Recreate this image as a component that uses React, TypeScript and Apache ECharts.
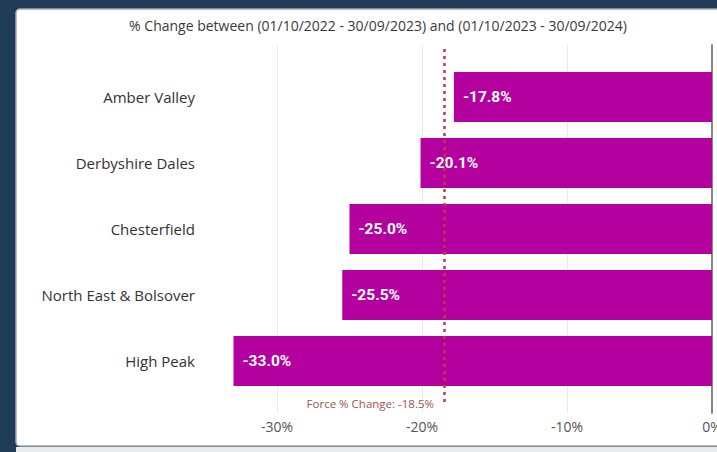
import React, { useEffect, useRef } from "react";
import * as echarts from "echarts";

const TITLE = "% Change between (01/10/2022 - 30/09/2023) and (01/10/2023 - 30/09/2024)";
const CATEGORIES = ["Amber Valley", "Derbyshire Dales", "Chesterfield", "North East & Bolsover", "High Peak"];
const VALUES = [-17.8, -20.1, -25.0, -25.5, -33.0];
const FORCE_CHANGE = -18.5;
const X_MIN = -35;
const X_MAX = 0;
const X_STEP = 5;
const LABEL_STEP = 10;

export default function App() {
  const ref = useRef<HTMLDivElement>(null);
  useEffect(() => {
    const chart = echarts.init(ref.current!, null, { renderer: "svg" });
    const font = "'Open Sans', 'Noto Sans', sans-serif";
    chart.setOption({
      animation: false,
      backgroundColor: "#1f3b57",
      graphic: [
        {
          type: "rect",
          z: -10,
          silent: true,
          shape: { x: 16, y: 9, width: 720, height: 437, r: 4 },
          style: { fill: "#ffffff", stroke: "#a3a9b0", lineWidth: 1.5 },
        },
        {
          type: "rect",
          z: -11,
          silent: true,
          shape: { x: 16, y: 447, width: 720, height: 10 },
          style: { fill: "#e9ecef" },
        },
        {
          type: "text",
          silent: true,
          z: 10,
          x: 434,
          y: 403,
          style: {
            text: `Force % Change: ${FORCE_CHANGE.toFixed(1)}%`,
            fill: "#a3504c",
            fontSize: 11.5,
            fontFamily: font,
            align: "right",
            verticalAlign: "middle",
          },
        },
      ],
      title: {
        text: TITLE,
        left: 373,
        top: 13,
        textAlign: "center",
        textStyle: { fontSize: 14, fontWeight: "normal", color: "#3a3a3a", fontFamily: font },
      },
      grid: [
        { left: 204.5, right: 5, top: 45, bottom: 39, outerBoundsMode: "none", containLabel: false },
        { left: 204.5, right: 5, top: 64, bottom: 58, outerBoundsMode: "none", containLabel: false },
      ],
      xAxis: [
        {
          type: "value",
          gridIndex: 0,
          min: X_MIN,
          max: X_MAX,
          interval: X_STEP,
          axisLine: { show: false },
          axisTick: { show: false },
          axisLabel: {
            color: "#555",
            fontSize: 14,
            fontFamily: font,
            margin: 6,
            formatter: (v: number) => (v % LABEL_STEP === 0 ? `${v}%` : ""),
          },
          splitLine: { show: true, lineStyle: { color: ["rgba(0,0,0,0)", "#ebebeb"], width: 1 } },
        },
        {
          type: "value",
          gridIndex: 1,
          min: X_MIN,
          max: X_MAX,
          show: false,
          splitLine: { show: false },
        },
      ],
      yAxis: [
        {
          type: "value",
          gridIndex: 0,
          min: 0,
          max: 1,
          position: "right",
          axisLine: { show: true, onZero: false, lineStyle: { color: "#858585", width: 2 } },
          axisTick: { show: false },
          axisLabel: { show: false },
          splitLine: { show: false },
        },
        {
          type: "category",
          gridIndex: 1,
          data: CATEGORIES,
          inverse: true,
          axisLine: { show: false },
          axisTick: { show: false },
          axisLabel: { color: "#333", fontSize: 15, fontFamily: font, margin: 9.5 },
        },
      ],
      series: [
        {
          type: "bar",
          xAxisIndex: 1,
          yAxisIndex: 1,
          z: 2,
          data: VALUES,
          barCategoryGap: "24%",
          itemStyle: { color: "#b3009e" },
          label: {
            show: true,
            position: "insideLeft",
            distance: 9,
            color: "#fff",
            fontWeight: "bold",
            fontSize: 15.5,
            fontFamily: "Roboto, sans-serif",
            formatter: (p: any) => `${p.value.toFixed(1)}%`,
          },
        },
        {
          type: "line",
          xAxisIndex: 0,
          yAxisIndex: 0,
          z: 10,
          data: [],
          silent: true,
          markLine: {
            silent: true,
            z: 10,
            symbol: "none",
            label: { show: false },
            lineStyle: { color: "#c23a48", type: [3, 4], width: 2.5 },
            data: [[{ coord: [FORCE_CHANGE, 0.03] }, { coord: [FORCE_CHANGE, 0.99] }]],
          },
        },
      ],
    });
    return () => chart.dispose();
  }, []);
  return <div ref={ref} style={{ width: 717, height: 452, position: "absolute", left: 0, top: 0 }} />;
}
